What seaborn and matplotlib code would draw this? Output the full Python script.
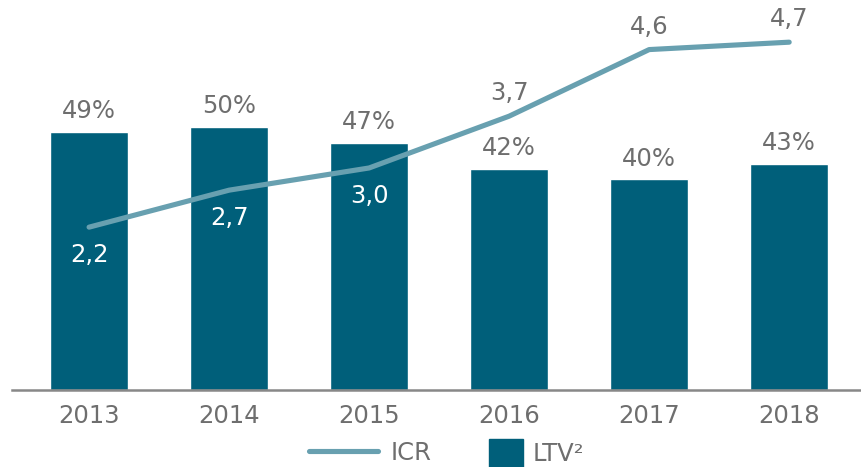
import matplotlib.pyplot as plt
import seaborn as sns
import numpy as np

years = ["2013", "2014", "2015", "2016", "2017", "2018"]
ltv = [49, 50, 47, 42, 40, 43]
icr = [2.2, 2.7, 3.0, 3.7, 4.6, 4.7]
icr_labels = ["2,2", "2,7", "3,0", "3,7", "4,6", "4,7"]

bar_color = "#005f7a"
line_color = "#68a0b0"
text_gray = "#6e6e6e"
fs = 17.5

sns.set_style("white")
plt.rcParams["font.family"] = ["DejaVu Sans"]

fig = plt.figure(figsize=(8.62, 4.67), dpi=100)
ax = fig.add_axes([0.014, 0.165, 0.986, 0.835])

sns.barplot(x=years, y=ltv, color=bar_color, width=0.557, saturation=1, ax=ax)
ax.set_xlim(-0.55, 5.52)
ax.set_ylim(0, 74.1)
ax.set_yticks([])
ax.set_xlabel("")
ax.set_ylabel("")
for s in ["top", "right", "left"]:
    ax.spines[s].set_visible(False)
ax.spines["bottom"].set_color("#888888")
ax.spines["bottom"].set_linewidth(1.8)
ax.tick_params(axis="x", length=0, pad=10, labelsize=fs, labelcolor=text_gray)

for i, v in enumerate(ltv):
    ax.annotate(f"{v}%", (i, v), xytext=(0, 15), textcoords="offset points",
                ha="center", va="center", fontsize=fs, color=text_gray)

ax2 = ax.twinx()
x = np.arange(len(years))
sns.lineplot(x=x, y=icr, color=line_color, linewidth=3.7,
             solid_capstyle="round", ax=ax2)
ax2.set_ylim(0, 5.27)
ax2.set_xlim(-0.55, 5.52)
ax2.set_yticks([])
ax2.set_ylabel("")
for s in ["top", "right", "left", "bottom"]:
    ax2.spines[s].set_visible(False)

for i, (v, lab) in enumerate(zip(icr, icr_labels)):
    inside = i < 3
    ax2.annotate(lab, (i, v), xytext=(0, -20 if inside else 16.5),
                 textcoords="offset points", ha="center", va="center",
                 fontsize=fs, color="white" if inside else text_gray)

# legend: two parts so the line and square can have different sizes
leg1 = fig.legend([plt.Line2D([], [], color=line_color, linewidth=3.7)], ["ICR"],
                  loc="center left", bbox_to_anchor=(309 / 862, 1 - 453 / 467),
                  frameon=False, fontsize=fs, labelcolor=text_gray,
                  handlelength=2.85, handletextpad=0.5, borderpad=0,
                  borderaxespad=0)
leg2 = fig.legend([plt.Rectangle((0, 0), 1, 1, color=bar_color)], ["LTV²"],
                  loc="center left", bbox_to_anchor=(489 / 862, 1 - 453 / 467),
                  frameon=False, fontsize=fs, labelcolor=text_gray,
                  handlelength=1.4, handleheight=1.4, handletextpad=0.4,
                  borderpad=0, borderaxespad=0)

fig.savefig("out.png", dpi=100)
